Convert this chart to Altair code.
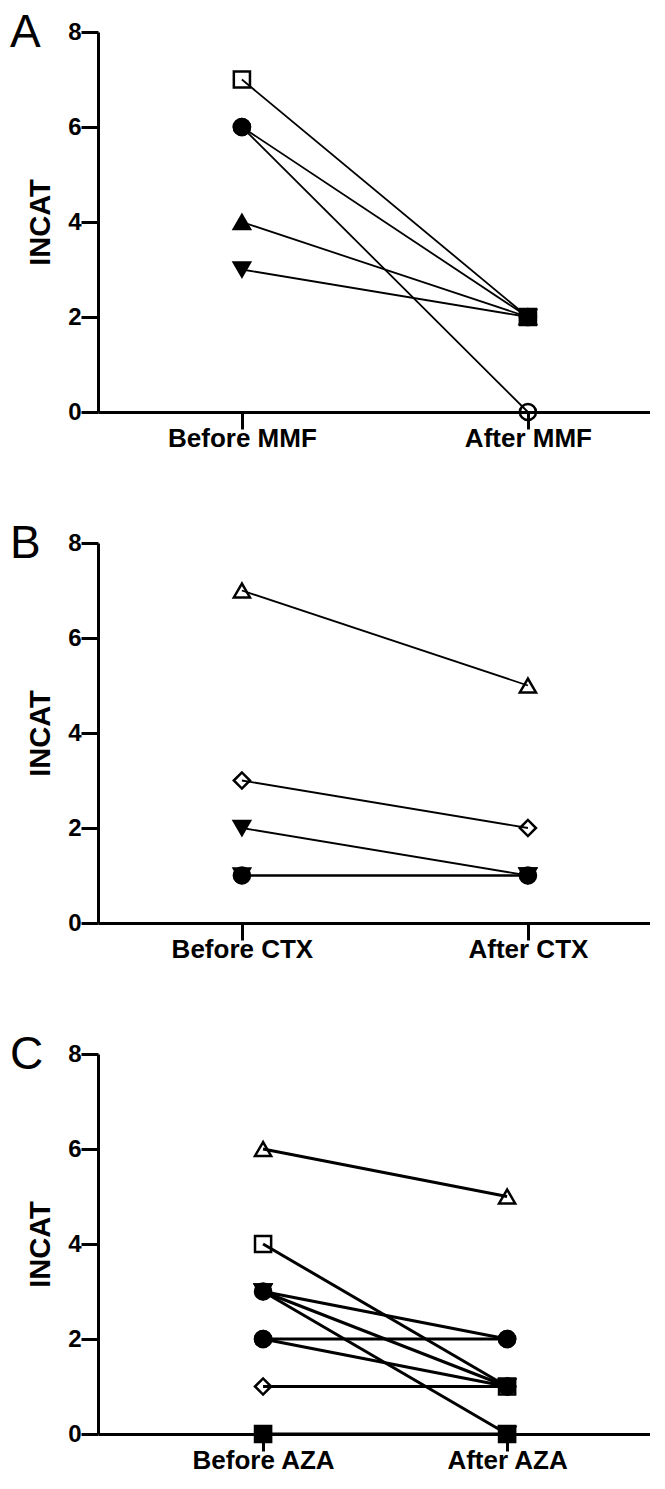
import altair as alt
import pandas as pd

# ---------------- data ----------------
panel_letters = ["A", "B", "C"]

cats_a = ["Before MMF", "After MMF"]
before_a = [6, 6, 3, 4, 7]
after_a = [0, 2, 2, 2, 2]
shape_a = ["circle", "circle", "triangle-down", "triangle-up", "square"]
fill_a = ["open", "filled", "filled", "filled", "open"]

cats_b = ["Before CTX", "After CTX"]
before_b = [2, 1, 1, 3, 7]
after_b = [1, 1, 1, 2, 5]
shape_b = ["triangle-down", "triangle-down", "circle", "diamond", "triangle-up"]
fill_b = ["filled", "filled", "filled", "open", "open"]

cats_c = ["Before AZA", "After AZA"]
before_c = [3, 2, 3, 3, 1, 4, 6, 2, 0]
after_c = [2, 1, 0, 1, 1, 1, 5, 2, 0]
shape_c = ["circle", "circle", "triangle-down", "triangle-down", "diamond",
           "square", "triangle-up", "circle", "square"]
fill_c = ["filled", "filled", "filled", "filled", "open", "open", "open", "filled", "filled"]

FONT = "Liberation Sans"


def panel(letter, cats, before, after, shapes, fills, line_w, pad, align):
    rows = []
    for i, (b, a, s, f) in enumerate(zip(before, after, shapes, fills)):
        fc = "black" if f == "filled" else "transparent"
        rows.append(dict(pid=i, time=cats[0], value=b, shape=s, fillc=fc))
        rows.append(dict(pid=i, time=cats[1], value=a, shape=s, fillc=fc))
    df = pd.DataFrame(rows)
    x = alt.X("time:N", sort=cats,
              scale=alt.Scale(type="point", padding=pad, align=align),
              axis=alt.Axis(title=None, labelAngle=0, labelFontSize=26,
                            labelPadding=-4))
    y = alt.Y("value:Q", scale=alt.Scale(domain=[0, 8], nice=False),
              axis=alt.Axis(values=[0, 2, 4, 6, 8], title="INCAT",
                            titleFontSize=29, titleFont=FONT,
                            titleFontWeight="bold", titleColor="black",
                            titlePadding=12, labelPadding=0))
    base = alt.Chart(df)
    lines = base.mark_line(color="black", strokeWidth=line_w).encode(
        x=x, y=y, detail="pid:N")
    pts = base.mark_point(filled=True, size=260, stroke="black",
                          strokeWidth=2.5, opacity=1).encode(
        x=x, y=y,
        shape=alt.Shape("shape:N", scale=None),
        fill=alt.Fill("fillc:N", scale=None))
    lab = alt.Chart(pd.DataFrame({"letter": [letter]})).mark_text(
        align="left", baseline="alphabetic", fontSize=46, font=FONT,
        color="black", x=-88, y=15).encode(text="letter:N")
    return alt.layer(lines, pts, lab).properties(width=552, height=380)


pa = panel(panel_letters[0], cats_a, before_a, after_a, shape_a, fill_a, 1.8, 0.465, 0.541)
pb = panel(panel_letters[1], cats_b, before_b, after_b, shape_b, fill_b, 1.8, 0.465, 0.541)
pc = panel(panel_letters[2], cats_c, before_c, after_c, shape_c, fill_c, 3, 0.631, 0.536)

chart = alt.vconcat(pa, pb, pc, spacing=131, bounds="flush").properties(
    padding={"left": 2, "top": 2, "right": 0, "bottom": 5}
).configure_view(stroke=None).configure_axis(
    grid=False, domainColor="black", domainWidth=3, tickColor="black",
    tickWidth=3, tickSize=17, labelFont=FONT, labelFontWeight="bold",
    labelColor="black", labelFontSize=24
)

chart.save("out.html", embed_options={"renderer": "svg", "actions": False})
